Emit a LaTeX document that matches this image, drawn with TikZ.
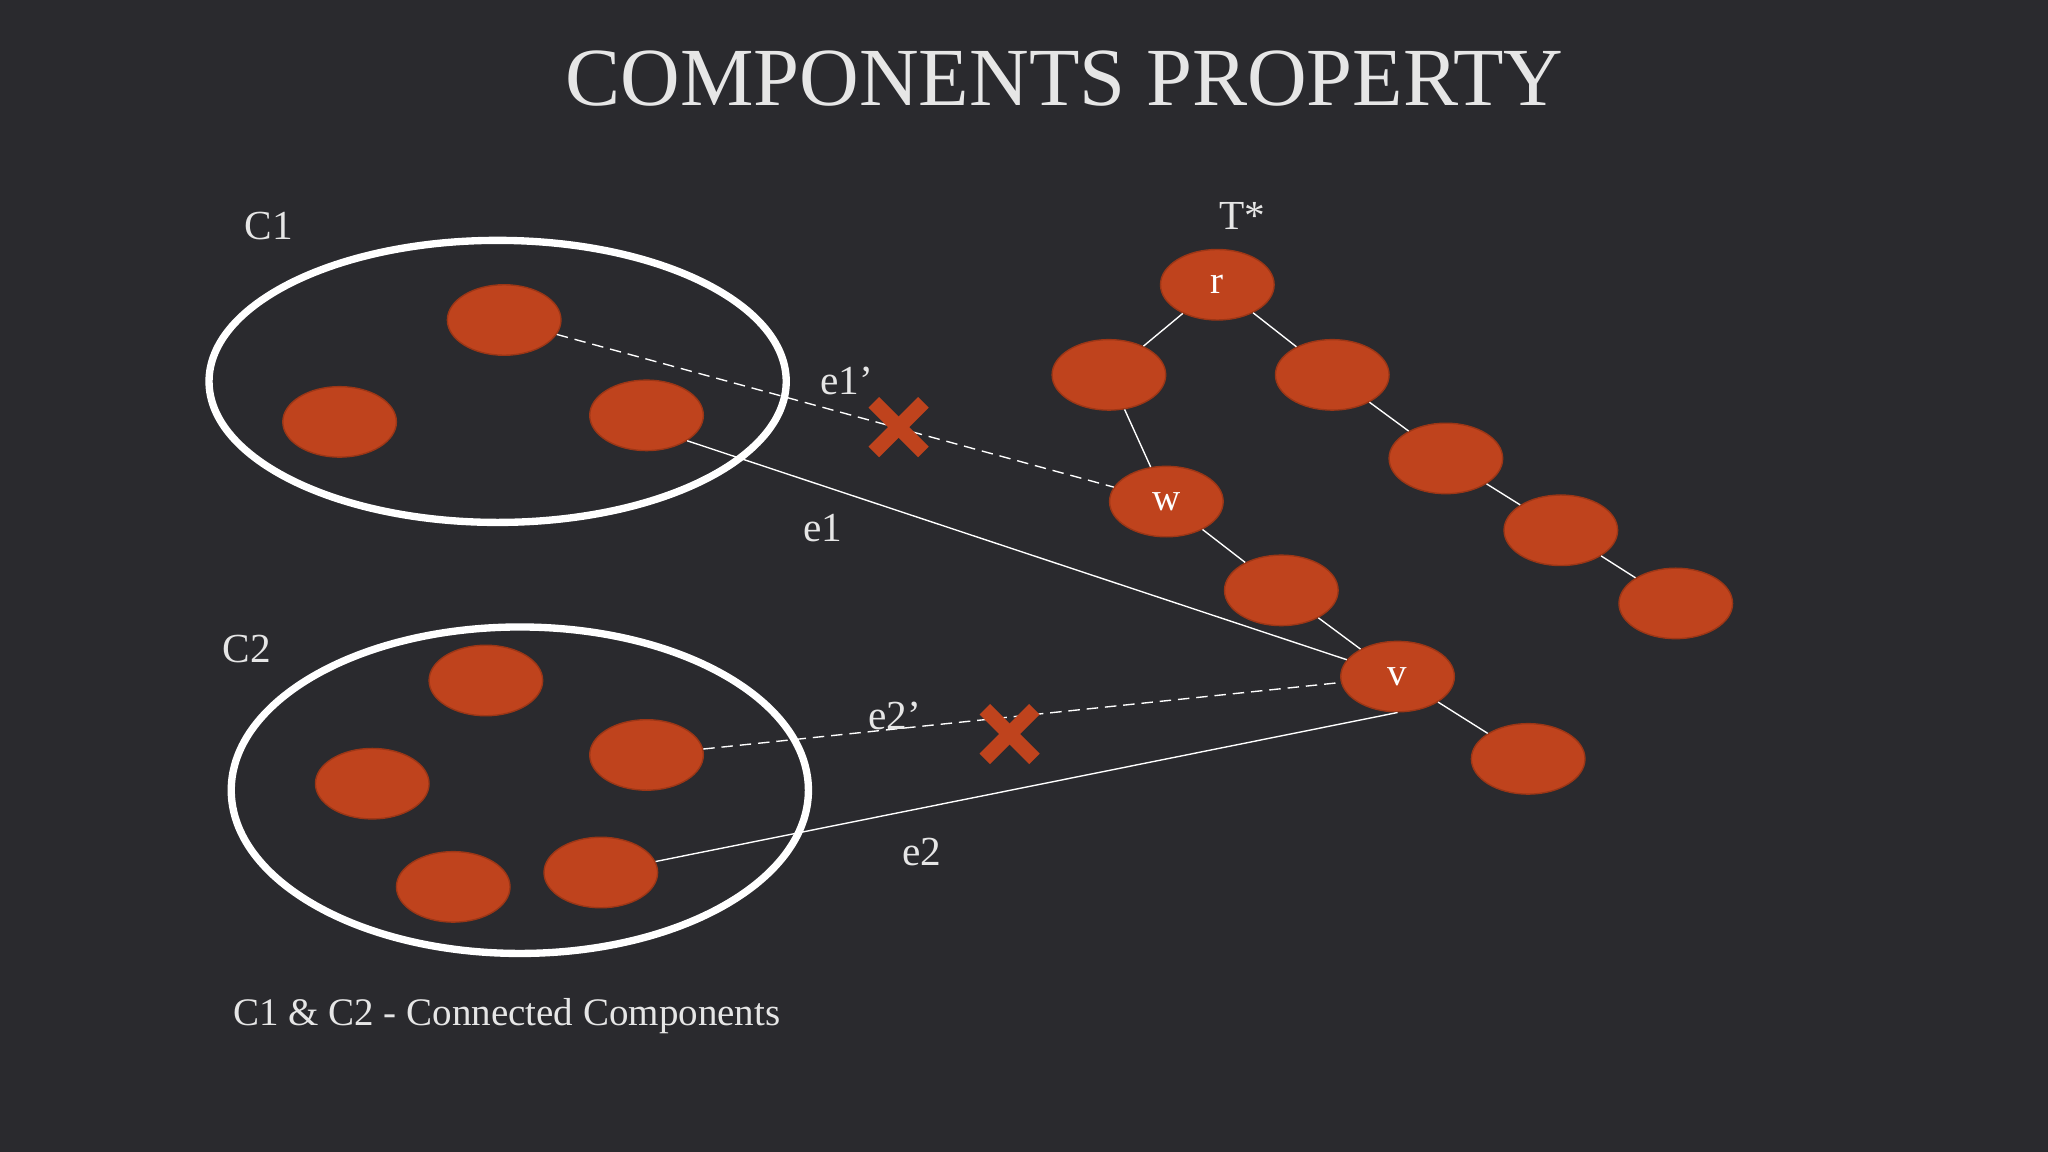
\documentclass[tikz,border=0pt]{standalone}
\usepackage{fontspec}
\setmainfont{Liberation Serif}
\usetikzlibrary{shapes.geometric}
\definecolor{bg}{HTML}{2A2A2E}
\definecolor{nodefill}{HTML}{BF431D}
\definecolor{nodeedge}{HTML}{9C3616}
\definecolor{txt}{HTML}{E6E6E6}
\tikzset{
 vert/.style={ellipse,fill=nodefill,draw=nodeedge,line width=0.6pt,minimum width=1.74cm,minimum height=1.08cm,inner sep=0pt,text=white,font=\fontsize{17}{17}\selectfont},
 tedge/.style={draw=white,line width=0.6pt},
 dedge/.style={draw=white,line width=0.6pt,dash pattern=on 5pt off 3pt},
 comp/.style={ellipse,draw=white,line width=3.2pt,inner sep=0pt},
 lbl/.style={text=txt,font=\fontsize{18}{18}\selectfont},
 xmark/.style={draw=nodefill,line width=6.5pt},
}
\begin{document}
\begin{tikzpicture}[x=0.02cm,y=-0.02cm]
\fill[bg] (0,0) rectangle (1568,882);
\useasboundingbox (0,0) rectangle (1568,882);
\node[text=txt,font=\fontsize{36}{36}\selectfont] (title) at (815,60) {COMPONENTS PROPERTY};
\node[comp,minimum width=8.84cm,minimum height=4.32cm] (C1) at (381,292) {};
\node[comp,minimum width=8.84cm,minimum height=5.0cm] (C2) at (398,605) {};
\node[lbl] (lc1) at (206,173) {C1};
\node[lbl] (lc2) at (189,497) {C2};
\node[lbl] (lt) at (951,165) {T*};
\node[lbl,font=\fontsize{17}{17}\selectfont] (lbot) at (388,778) {C1 \& C2 - Connected Components};
% C1 nodes
\node[vert] (a1) at (386,245) {};
\node[vert] (a2) at (260,323) {};
\node[vert] (a3) at (495,318) {};
% C2 nodes
\node[vert] (b1) at (372,521) {};
\node[vert] (b2) at (285,600) {};
\node[vert] (b3) at (495,578) {};
\node[vert] (b4) at (347,679) {};
\node[vert] (b5) at (460,668) {};
% tree
\node[vert] (r) at (932,218) {r};
\node[vert] (n1) at (849,287) {};
\node[vert] (n2) at (1020,287) {};
\node[vert] (w) at (893,384) {w};
\node[vert] (n3) at (981,452) {};
\node[vert] (v) at (1070,518) {v};
\node[vert] (n4) at (1170,581) {};
\node[vert] (n5) at (1107,351) {};
\node[vert] (n6) at (1195,406) {};
\node[vert] (n7) at (1283,462) {};
\foreach \p/\q in {r/n1,r/n2,n1/w,w/n3,n3/v,v/n4,n2/n5,n5/n6,n6/n7}
  \draw[tedge] (\p) -- (\q);
\draw[dedge] (a1) -- (w);
\draw[tedge] (a3.south east) -- (v);
\draw[dedge] (b3) -- (v);
\draw[tedge] (b5) -- (v.south);
\node[lbl] (le1p) at (648,292) {e1’};
\node[lbl] (le1) at (630,404) {e1};
\node[lbl] (le2p) at (685,548) {e2’};
\node[lbl] (le2) at (706,652) {e2};
\coordinate (x1) at (688,327);
\coordinate (x2) at (773,562);
\foreach \c in {x1,x2}{
  \draw[xmark] ([shift={(-19,-19)}]\c) -- ([shift={(19,19)}]\c);
  \draw[xmark] ([shift={(-19,19)}]\c) -- ([shift={(19,-19)}]\c);
}
\end{tikzpicture}
\end{document}
